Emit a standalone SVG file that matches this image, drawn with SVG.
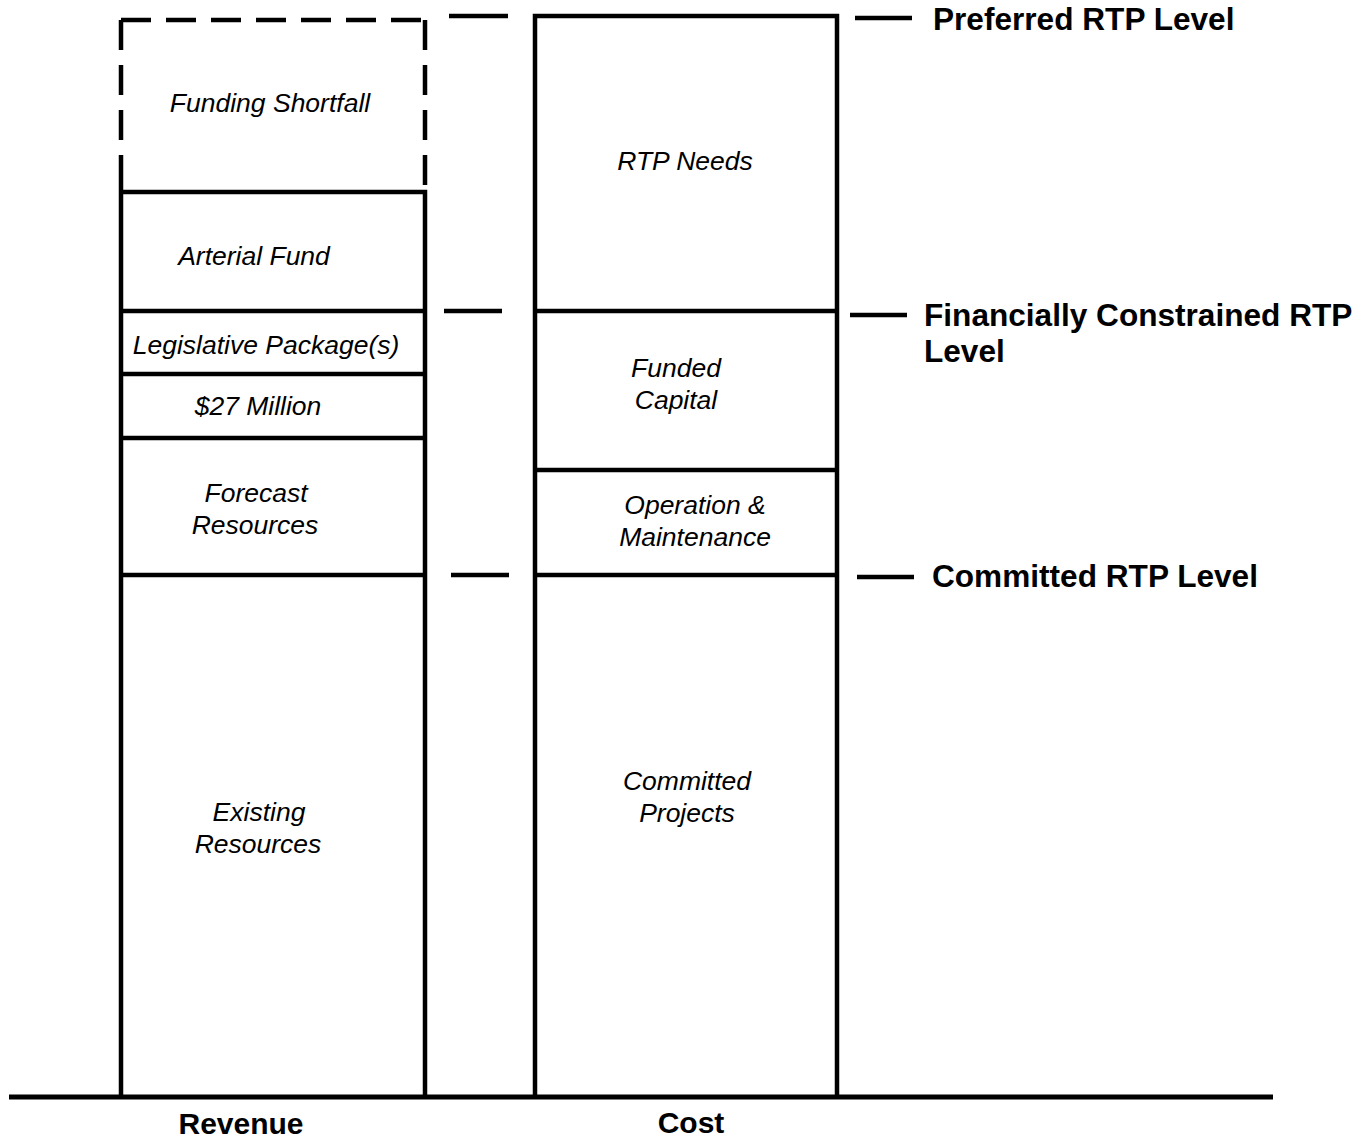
<svg xmlns="http://www.w3.org/2000/svg" width="1363" height="1140" viewBox="0 0 1363 1140">
  <style>
    .box { fill: none; stroke: #000; stroke-width: 4.5; }
    .dash { fill: none; stroke: #000; stroke-width: 4.5; stroke-dasharray: 30 15; }
    .tick { stroke: #000; stroke-width: 4.5; }
    .lbl { font-family: "Liberation Sans", Arial, sans-serif; font-style: italic; font-size: 26.5px; text-anchor: middle; fill: #000; }
    .lvl { font-family: "Liberation Sans", Arial, sans-serif; font-weight: bold; font-size: 31.6px; fill: #000; }
    .axis { font-family: "Liberation Sans", Arial, sans-serif; font-weight: bold; font-size: 30px; text-anchor: middle; fill: #000; }
  </style>
  <rect width="1363" height="1140" fill="#fff"/>

  <!-- Revenue stack -->
  <g id="funding-shortfall">
    <path class="dash" d="M121,20 H425"/>
    <path class="dash" d="M121,20 V160"/>
    <path class="dash" d="M425,20 V192"/>
    <text class="lbl" x="270" y="112">Funding Shortfall</text>
  </g>
  <g id="arterial-fund">
    <path class="box" d="M121,160 V311 M121,192 H425 V311"/>
    <text class="lbl" x="254" y="265">Arterial Fund</text>
  </g>
  <g id="legislative-package">
    <path class="box" d="M121,311 H425 M121,311 V374 M425,311 V374"/>
    <text class="lbl" x="266" y="354">Legislative Package(s)</text>
  </g>
  <g id="million-27">
    <path class="box" d="M121,374 H425 M121,374 V438 M425,374 V438"/>
    <text class="lbl" x="258" y="415">$27 Million</text>
  </g>
  <g id="forecast-resources">
    <path class="box" d="M121,438 H425 M121,438 V575 M425,438 V575"/>
    <text class="lbl" x="256" y="502">Forecast</text>
    <text class="lbl" x="255" y="534">Resources</text>
  </g>
  <g id="existing-resources">
    <path class="box" d="M121,575 H425 M121,575 V1097 M425,575 V1097"/>
    <text class="lbl" x="259" y="821">Existing</text>
    <text class="lbl" x="258" y="853">Resources</text>
  </g>

  <!-- Cost stack -->
  <g id="rtp-needs">
    <path class="box" d="M535,311 V16 H837 V311"/>
    <text class="lbl" x="685" y="170">RTP Needs</text>
  </g>
  <g id="funded-capital">
    <path class="box" d="M535,311 H837 M535,311 V470 M837,311 V470"/>
    <text class="lbl" x="676" y="377">Funded</text>
    <text class="lbl" x="676" y="409">Capital</text>
  </g>
  <g id="operation-maintenance">
    <path class="box" d="M535,470 H837 M535,470 V575 M837,470 V575"/>
    <text class="lbl" x="695" y="514">Operation &amp;</text>
    <text class="lbl" x="695" y="546">Maintenance</text>
  </g>
  <g id="committed-projects">
    <path class="box" d="M535,575 H837 M535,575 V1097 M837,575 V1097"/>
    <text class="lbl" x="687" y="790">Committed</text>
    <text class="lbl" x="687" y="822">Projects</text>
  </g>

  <!-- Level markers -->
  <g id="connectors">
    <line class="tick" x1="449" y1="16" x2="508" y2="16"/>
    <line class="tick" x1="444" y1="311" x2="502" y2="311"/>
    <line class="tick" x1="451" y1="575" x2="509" y2="575"/>
    <line class="tick" x1="855" y1="18" x2="912" y2="18"/>
    <line class="tick" x1="850" y1="315" x2="907" y2="315"/>
    <line class="tick" x1="857" y1="577" x2="914" y2="577"/>
  </g>

  <g id="level-labels">
    <text class="lvl" x="933" y="30">Preferred RTP Level</text>
    <text class="lvl" x="924" y="326">Financially Constrained RTP</text>
    <text class="lvl" x="924" y="362">Level</text>
    <text class="lvl" x="932" y="587">Committed RTP Level</text>
  </g>

  <!-- Baseline and axis captions -->
  <g id="axis">
    <line x1="9" y1="1097" x2="1273" y2="1097" stroke="#000" stroke-width="5"/>
    <text class="axis" x="241" y="1134">Revenue</text>
    <text class="axis" x="691" y="1133">Cost</text>
  </g>
</svg>
